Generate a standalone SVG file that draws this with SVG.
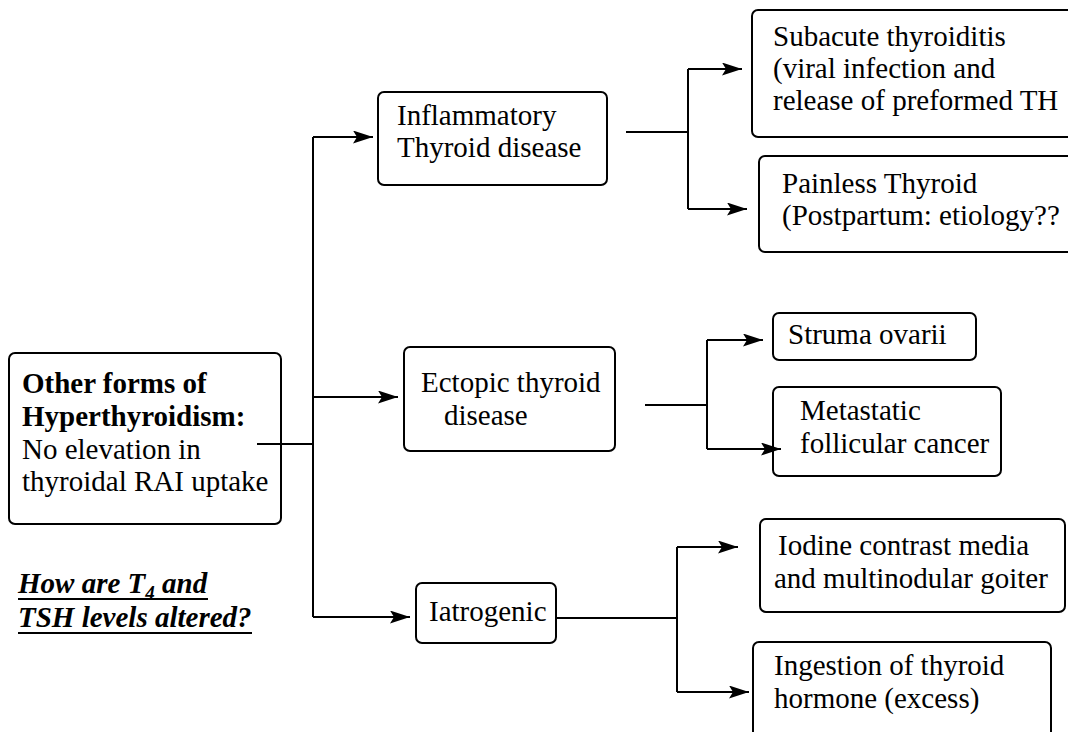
<svg xmlns="http://www.w3.org/2000/svg" width="1068" height="732" viewBox="0 0 1068 732">
<style>
.box{fill:#fff;stroke:#000;stroke-width:2}
.t{font-family:"Liberation Serif","Times New Roman",serif;font-size:29px;fill:#000}
.b{font-weight:bold}
.q{font-weight:bold;font-style:italic}
.c{fill:none;stroke:#000;stroke-width:2}
.a{fill:none;stroke:#000;stroke-width:2;marker-end:url(#arr)}
.u{stroke:#000;stroke-width:2}
</style>
<defs>
<marker id="arr" viewBox="0 0 20 13" refX="20" refY="6.5" markerWidth="20" markerHeight="13" markerUnits="userSpaceOnUse" orient="auto">
<path d="M0,0 L20,6.5 L0,13 L4,6.5 Z" fill="#000"/>
</marker>
</defs>
<rect width="1068" height="732" fill="#fff"/>

<g id="main">
<rect class="box" x="9" y="353" width="272" height="171" rx="6"/>
<text class="t b" x="22" y="393">Other forms of</text>
<text class="t b" x="22" y="426">Hyperthyroidism:</text>
<text class="t" x="22" y="459">No elevation in</text>
<text class="t" x="22" y="491">thyroidal RAI uptake</text>
</g>

<g id="question">
<text class="t q" x="18" y="593">How are T<tspan font-size="19" dy="6">4</tspan><tspan dy="-6"> and</tspan></text>
<text class="t q" x="18" y="627">TSH levels altered?</text>
<line class="u" x1="18" y1="599" x2="208" y2="599"/>
<line class="u" x1="18" y1="633" x2="252" y2="633"/>
</g>

<g id="inflammatory">
<rect class="box" x="378" y="92" width="229" height="93" rx="6"/>
<text class="t" x="397" y="125">Inflammatory</text>
<text class="t" x="397" y="157">Thyroid disease</text>
</g>

<g id="ectopic">
<rect class="box" x="404" y="347" width="211" height="104" rx="6"/>
<text class="t" x="421" y="392">Ectopic thyroid</text>
<text class="t" x="444" y="425">disease</text>
</g>

<g id="iatrogenic">
<rect class="box" x="416" y="583" width="140" height="60" rx="6"/>
<text class="t" x="429" y="621">Iatrogenic</text>
</g>

<g id="subacute">
<rect class="box" x="752" y="10" width="340" height="127" rx="6"/>
<text class="t" x="773" y="46">Subacute thyroiditis</text>
<text class="t" x="773" y="78">(viral infection and</text>
<text class="t" x="773" y="110">release of preformed TH</text>
</g>

<g id="painless">
<rect class="box" x="759" y="156" width="330" height="96" rx="6"/>
<text class="t" x="782" y="193">Painless Thyroid</text>
<text class="t" x="782" y="225">(Postpartum: etiology??</text>
</g>

<g id="struma">
<rect class="box" x="773" y="313" width="203" height="47" rx="6"/>
<text class="t" x="788" y="344">Struma ovarii</text>
</g>

<g id="metastatic">
<rect class="box" x="773" y="387" width="228" height="89" rx="6"/>
<text class="t" x="800" y="420">Metastatic</text>
<text class="t" x="800" y="453">follicular cancer</text>
</g>

<g id="iodine">
<rect class="box" x="760" y="519" width="305" height="93" rx="6"/>
<text class="t" x="778" y="555">Iodine contrast media</text>
<text class="t" x="774" y="588">and multinodular goiter</text>
</g>

<g id="ingestion">
<rect class="box" x="753" y="642" width="298" height="100" rx="6"/>
<text class="t" x="774" y="675">Ingestion of thyroid</text>
<text class="t" x="774" y="708">hormone (excess)</text>
</g>

<g id="connectors">
<path class="c" d="M257,444 H313"/>
<path class="c" d="M313,137 V617"/>
<path class="a" d="M313,137 H373"/>
<path class="a" d="M313,397 H398"/>
<path class="a" d="M313,617 H410"/>
<path class="c" d="M626,132 H688 M688,69 V209"/>
<path class="a" d="M688,69 H742"/>
<path class="a" d="M688,209 H747"/>
<path class="c" d="M645,405 H707 M707,340 V449"/>
<path class="a" d="M707,340 H763"/>
<path class="a" d="M707,449 H781"/>
<path class="c" d="M556,618 H677 M677,547 V692"/>
<path class="a" d="M677,547 H738"/>
<path class="a" d="M677,692 H749"/>
</g>
</svg>
